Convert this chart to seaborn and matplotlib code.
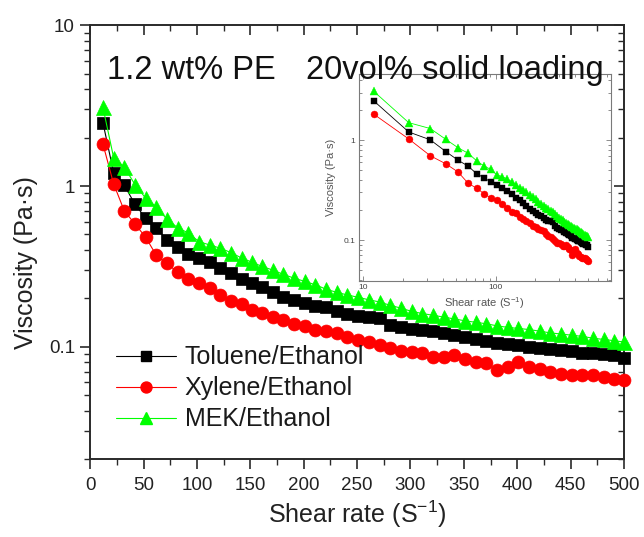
import numpy as np
import pandas as pd
import matplotlib
matplotlib.use("Agg")
import matplotlib.pyplot as plt
import seaborn as sns
from matplotlib.ticker import (FixedLocator, FixedFormatter, NullFormatter,
                               LogLocator, MultipleLocator)
from matplotlib.lines import Line2D

# Shear rate (1/s) and viscosity (Pa.s) for three solvent systems
shear = [12, 22, 32, 42, 52, 62, 72, 82, 92, 102, 112, 122, 132, 142, 152,
         161, 171, 181, 191, 201, 211, 221, 231, 241, 251, 261, 271, 281, 291,
         301, 311, 321, 331, 341, 351, 361, 371, 381, 391, 401, 411, 421, 431,
         441, 451, 461, 471, 481, 491, 500]

toluene = [2.47, 1.21, 1.01, 0.77, 0.63, 0.55, 0.46, 0.42, 0.38, 0.355,
           0.335, 0.31, 0.288, 0.265, 0.25, 0.235, 0.22, 0.205, 0.196, 0.188,
           0.18, 0.176, 0.168, 0.16, 0.155, 0.154, 0.150, 0.137, 0.133, 0.129,
           0.127, 0.125, 0.121, 0.119, 0.115, 0.112, 0.109, 0.106, 0.104, 0.102,
           0.100, 0.098, 0.097, 0.0955, 0.094, 0.092, 0.091, 0.090, 0.089, 0.085]

xylene = [1.82, 1.03, 0.70, 0.58, 0.48, 0.37, 0.33, 0.29, 0.265, 0.25,
          0.232, 0.21, 0.193, 0.185, 0.17, 0.162, 0.154, 0.147, 0.138, 0.134,
          0.128, 0.126, 0.122, 0.115, 0.110, 0.107, 0.102, 0.098, 0.094, 0.093,
          0.091, 0.0866, 0.0866, 0.0887, 0.0845, 0.0806, 0.0787, 0.0715, 0.075,
          0.0806, 0.075, 0.073, 0.0698, 0.068, 0.0665, 0.0665, 0.0665, 0.065,
          0.0634, 0.062]

mek = [3.08, 1.50, 1.31, 1.02, 0.84, 0.74, 0.62, 0.55, 0.51, 0.45,
       0.43, 0.41, 0.385, 0.356, 0.335, 0.316, 0.30, 0.282, 0.267, 0.255,
       0.243, 0.228, 0.218, 0.21, 0.203, 0.196, 0.19, 0.181, 0.174, 0.166,
       0.161, 0.157, 0.153, 0.149, 0.145, 0.142, 0.139, 0.135, 0.132, 0.130,
       0.128, 0.125, 0.122, 0.12, 0.118, 0.116, 0.113, 0.111, 0.109, 0.107]

solvents = ["Toluene/Ethanol", "Xylene/Ethanol", "MEK/Ethanol"]

df = pd.DataFrame({
    "shear": shear * 3,
    "viscosity": toluene + xylene + mek,
    "solvent": np.repeat(solvents, len(shear)),
})

colors = {"Toluene/Ethanol": "#000000", "Xylene/Ethanol": "#ff0000",
          "MEK/Ethanol": "#00ff00"}
marks = {"Toluene/Ethanol": "s", "Xylene/Ethanol": "o", "MEK/Ethanol": "^"}
msize_main = {"Toluene/Ethanol": 8.5, "Xylene/Ethanol": 9.3, "MEK/Ethanol": 10.8}
msize_inset = {"Toluene/Ethanol": 4.8, "Xylene/Ethanol": 5.0, "MEK/Ethanol": 5.8}

sns.set_style("ticks")
plt.rcParams["font.family"] = ["Liberation Sans", "DejaVu Sans"]
plt.rcParams["mathtext.default"] = "regular"

fig = plt.figure(figsize=(6.44, 5.37), dpi=100)
ax = fig.add_axes([0.140, 0.145, 0.829, 0.808])

for s in solvents:
    sub = df[df["solvent"] == s]
    sns.lineplot(data=sub, x="shear", y="viscosity", ax=ax, color=colors[s],
                 marker=marks[s], markersize=msize_main[s], linewidth=0.8,
                 markeredgecolor=colors[s], markeredgewidth=0.5,
                 legend=False, clip_on=False, zorder=3)

ax.set_yscale("log")
ax.set_xlim(0, 500)
ax.set_ylim(0.02, 10)

axis_col = "#2a2a2a"
for sp in ax.spines.values():
    sp.set_color(axis_col)
    sp.set_linewidth(1.4)

ax.xaxis.set_major_locator(MultipleLocator(50))
ax.xaxis.set_minor_locator(MultipleLocator(25))
ax.yaxis.set_major_locator(FixedLocator([0.1, 1, 10]))
ax.yaxis.set_major_formatter(FixedFormatter(["0.1", "1", "10"]))
ax.yaxis.set_minor_locator(LogLocator(base=10, subs=np.arange(2, 10)))
ax.yaxis.set_minor_formatter(NullFormatter())
ax.tick_params(which="major", direction="out", length=7, width=1.2,
               color=axis_col, labelsize=13.5, labelcolor="#222222", pad=4)
ax.tick_params(axis="x", which="major", pad=6)
ax.tick_params(which="minor", direction="out", length=4, width=1.0,
               color=axis_col)

# inward ticks on the mirrored top and right edges
top = ax.secondary_xaxis("top")
top.xaxis.set_major_locator(MultipleLocator(50))
top.xaxis.set_minor_locator(MultipleLocator(25))
top.tick_params(which="major", direction="in", length=7, width=1.2,
                color=axis_col, labeltop=False)
top.tick_params(which="minor", direction="in", length=4, width=1.0,
                color=axis_col)
top.spines["top"].set_visible(False)

right = ax.secondary_yaxis("right")
right.yaxis.set_major_locator(FixedLocator([0.1, 1, 10]))
right.yaxis.set_minor_locator(LogLocator(base=10, subs=np.arange(2, 10)))
right.yaxis.set_minor_formatter(NullFormatter())
right.tick_params(which="major", direction="in", length=7, width=1.2,
                  color=axis_col, labelright=False)
right.tick_params(which="minor", direction="in", length=4, width=1.0,
                  color=axis_col)
right.spines["right"].set_visible(False)

ax.set_xlabel("Shear rate (S$^{-1}$)", fontsize=18, color="#222222")
ax.set_ylabel("Viscosity (Pa\u00b7s)", fontsize=18, color="#222222")
ax.xaxis.set_label_coords(0.5, -0.092)
ax.yaxis.set_label_coords(-0.098, 0.454)

fig.text(0.166, 0.853, "1.2 wt% PE", fontsize=23.5, color="#111111",
         ha="left", va="baseline")
fig.text(0.475, 0.853, "20vol% solid loading", fontsize=23.5,
         color="#111111", ha="left", va="baseline")

handles = [Line2D([0], [0], color=colors[s], marker=marks[s], linewidth=0.8,
                  markersize=msize_main[s] * 0.85, markeredgecolor=colors[s])
           for s in solvents]
ax.legend(handles, solvents, loc="upper left",
          bbox_to_anchor=(0.180, 0.357), bbox_transform=fig.transFigure,
          frameon=False, fontsize=18, handlelength=2.4, handletextpad=0.35,
          labelspacing=0.28, borderpad=0, borderaxespad=0,
          labelcolor="#1a1a1a")

# inset: same data on log-log axes
ins = fig.add_axes([0.557, 0.477, 0.391, 0.385])
for s in solvents:
    sub = df[df["solvent"] == s]
    sns.lineplot(data=sub, x="shear", y="viscosity", ax=ins, color=colors[s],
                 marker=marks[s], markersize=msize_inset[s], linewidth=0.6,
                 markeredgecolor=colors[s], markeredgewidth=0.3,
                 legend=False, zorder=3)
ins.set_xscale("log")
ins.set_yscale("log")
ins.set_xlim(9.2, 740)
ins.set_ylim(0.039, 4.6)
ins_col = "#7a7a7a"
for sp in ins.spines.values():
    sp.set_color(ins_col)
    sp.set_linewidth(0.8)
ins.xaxis.set_major_locator(FixedLocator([10, 100]))
ins.xaxis.set_major_formatter(FixedFormatter(["10", "100"]))
ins.xaxis.set_minor_locator(LogLocator(base=10, subs=np.arange(2, 10)))
ins.xaxis.set_minor_formatter(NullFormatter())
ins.yaxis.set_major_locator(FixedLocator([0.1, 1]))
ins.yaxis.set_major_formatter(FixedFormatter(["0.1", "1"]))
ins.yaxis.set_minor_locator(LogLocator(base=10, subs=np.arange(2, 10)))
ins.yaxis.set_minor_formatter(NullFormatter())
ins.tick_params(which="both", direction="in", top=True, right=True,
                color=ins_col, width=0.6)
ins.tick_params(which="major", length=3.5, labelsize=6,
                labelcolor="#444444", pad=2.5)
ins.tick_params(which="minor", length=2)
ins.set_xlabel("Shear rate (S$^{-1}$)", fontsize=8, color="#555555",
               labelpad=3)
ins.set_ylabel("Viscosity (Pa\u00b7s)", fontsize=8, color="#555555",
               labelpad=5)

fig.savefig("out.png", dpi=100)
